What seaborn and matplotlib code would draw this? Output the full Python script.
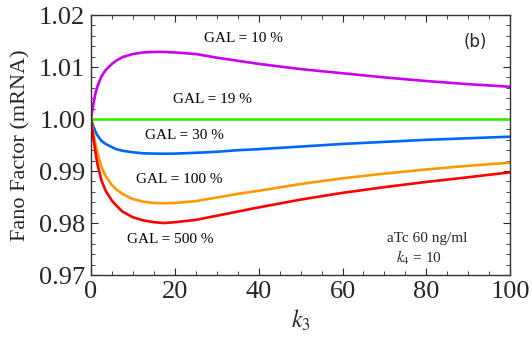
import numpy as np
import pandas as pd
import matplotlib
matplotlib.use("Agg")
import matplotlib.pyplot as plt
from matplotlib.ticker import MultipleLocator
import seaborn as sns

# --- data ---
k3 = [0, 0.5, 1, 1.5, 2.5, 3.5, 5, 6, 7.5, 10, 12.5, 15, 17.5, 20, 25, 30, 35, 40, 50, 60, 70, 80, 90, 100]

gal_10 = [1.0000, 1.0025, 1.0047, 1.0062, 1.0082, 1.0094, 1.0106, 1.0112, 1.0119, 1.0125, 1.0128, 1.0129,
          1.0129, 1.0128, 1.0125, 1.0118, 1.0112, 1.0106, 1.0096, 1.0088, 1.0080, 1.0073, 1.0067, 1.0062]
gal_19 = [1.0] * len(k3)
gal_30 = [1.0000, 0.9988, 0.9977, 0.9969, 0.9958, 0.9952, 0.9946, 0.9942, 0.9939, 0.9936, 0.9934, 0.99335,
          0.99333, 0.99335, 0.9935, 0.9937, 0.9940, 0.9942, 0.9947, 0.9952, 0.9956, 0.9960, 0.9963, 0.9966]
gal_100 = [1.0000, 0.9976, 0.9955, 0.9936, 0.9908, 0.9890, 0.9873, 0.9865, 0.9856, 0.9846, 0.9841, 0.98385,
           0.9838, 0.98385, 0.9842, 0.9849, 0.9856, 0.9862, 0.9875, 0.9886, 0.9895, 0.9903, 0.9910, 0.9916]
gal_500 = [1.0000, 0.9968, 0.9940, 0.9915, 0.9882, 0.9862, 0.9843, 0.9834, 0.9822, 0.9811, 0.9805, 0.98015,
           0.9800, 0.98015, 0.9806, 0.9814, 0.9822, 0.9830, 0.9845, 0.9858, 0.9869, 0.9879, 0.9888, 0.98975]

series_names = ["GAL = 10 %", "GAL = 19 %", "GAL = 30 %", "GAL = 100 %", "GAL = 500 %"]
series_vals = [gal_10, gal_19, gal_30, gal_100, gal_500]
colors = ["#CC00EE", "#33EE00", "#0066FF", "#FF9900", "#FF0000"]

# label anchor positions (data coords)
label_x = [36.3, 28.9, 22.3, 21.1, 18.9]
label_y = [1.0155, 1.0037, 0.9969, 0.9883, 0.9769]

df = pd.concat([pd.DataFrame({"k3": k3, "fano": v, "series": n})
                for n, v in zip(series_names, series_vals)], ignore_index=True)

# --- style ---
sns.set_style("ticks")
plt.rcParams["font.family"] = ["Liberation Serif", "DejaVu Serif"]
plt.rcParams["mathtext.fontset"] = "stix"

fig = plt.figure(figsize=(5.32, 3.49), dpi=100)
ax = fig.add_axes([0.171, 0.212, 0.788, 0.745])

sns.lineplot(data=df, x="k3", y="fano", hue="series", palette=colors,
             linewidth=1.9, legend=False, ax=ax, sort=False)

for name, lx, ly in zip(series_names, label_x, label_y):
    ax.text(lx, ly, name, fontsize=11, ha="center", va="center", color="black")

ax.text(91.8, 1.0149, "(b)", fontsize=12, ha="center", va="center",
        family=["DejaVu Sans"])
ax.text(80.2, 0.9771, "aTc 60 ng/ml", fontsize=11, ha="center", va="center")
ax.text(78.3, 0.9732, r"$k_4$ = 10", fontsize=11, ha="center", va="center")

ax.set_xlim(0, 100)
ax.set_ylim(0.97, 1.02)
ax.xaxis.set_major_locator(MultipleLocator(20))
ax.xaxis.set_minor_locator(MultipleLocator(5))
ax.yaxis.set_major_locator(MultipleLocator(0.01))
ax.yaxis.set_minor_locator(MultipleLocator(0.002))
ax.yaxis.set_major_formatter(matplotlib.ticker.FormatStrFormatter("%.2f"))

ax.tick_params(which="both", direction="in", top=True, right=True, labelsize=19, pad=4)
ax.tick_params(which="major", length=5, width=0.8)
ax.tick_params(which="minor", length=3, width=0.6)
for s in ax.spines.values():
    s.set_linewidth(1.0)
    s.set_color("#333333")

ax.set_xlabel(r"$k_3$", fontsize=17, labelpad=4)
ax.set_ylabel("Fano Factor (mRNA)", fontsize=16, labelpad=6)

fig.savefig("out.png", dpi=100)
